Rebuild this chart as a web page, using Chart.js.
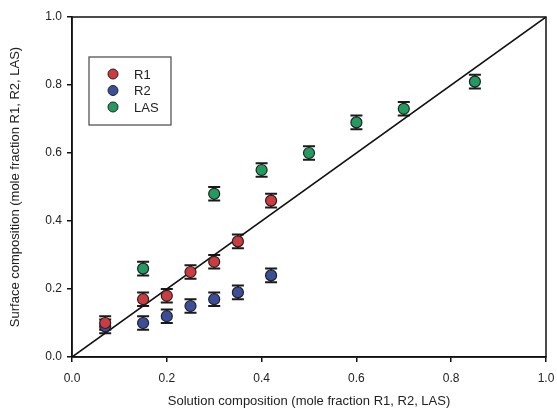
<!DOCTYPE html>
<html>
<head>
<meta charset="utf-8">
<script src="https://cdn.jsdelivr.net/npm/chart.js@4"></script>
<style>
  html, body { margin: 0; padding: 0; background: #fff; }
  #wrap { width: 557px; height: 415px; }
</style>
</head>
<body>
<div id="wrap"><canvas id="chart" width="557" height="415"></canvas></div>
<script>
// data
const r1X = [0.07, 0.15, 0.20, 0.25, 0.30, 0.35, 0.42];
const r1Y = [0.10, 0.17, 0.18, 0.25, 0.28, 0.34, 0.46];
const r2X = [0.07, 0.15, 0.20, 0.25, 0.30, 0.35, 0.42];
const r2Y = [0.09, 0.10, 0.12, 0.15, 0.17, 0.19, 0.24];
const lasX = [0.15, 0.30, 0.40, 0.50, 0.60, 0.70, 0.85];
const lasY = [0.26, 0.48, 0.55, 0.60, 0.69, 0.73, 0.81];
const errY = 0.02;
const tickValues = [0, 0.2, 0.4, 0.6, 0.8, 1.0];
const seriesNames = ['R1', 'R2', 'LAS'];
const seriesColors = ['#cf3a3f', '#3a4e9c', '#1f9c5e'];

const toPoints = (xs, ys) => xs.map((x, i) => ({ x: x, y: ys[i] }));

const FONT = 'Arial, "Liberation Sans", sans-serif';

// error bars, drawn under the markers
const errorBars = {
    id: 'errorBars',
    beforeDatasetsDraw(chart) {
        const ctx = chart.ctx;
        const xs = chart.scales.x, ys = chart.scales.y;
        ctx.save();
        ctx.strokeStyle = '#1a1a1a';
        ctx.lineWidth = 2;
        chart.data.datasets.forEach(ds => {
            if (!ds.isSeries) return;
            ds.data.forEach(p => {
                const px = xs.getPixelForValue(p.x);
                const top = ys.getPixelForValue(p.y + errY);
                const bot = ys.getPixelForValue(p.y - errY);
                ctx.beginPath();
                ctx.moveTo(px, top); ctx.lineTo(px, bot);
                ctx.moveTo(px - 6, top); ctx.lineTo(px + 6, top);
                ctx.moveTo(px - 6, bot); ctx.lineTo(px + 6, bot);
                ctx.stroke();
            });
        });
        ctx.restore();
    }
};

// frame around the plot and the boxed legend
const frameAndLegend = {
    id: 'frameAndLegend',
    afterDraw(chart) {
        const ctx = chart.ctx;
        const a = chart.chartArea;
        ctx.save();
        ctx.strokeStyle = '#111';
        ctx.lineWidth = 1.5;
        ctx.strokeRect(a.left, a.top, a.right - a.left, a.bottom - a.top);

        const lx = a.left + 17, ly = a.top + 40;
        ctx.strokeStyle = '#555';
        ctx.lineWidth = 1.3;
        ctx.strokeRect(lx, ly, 82, 68);
        ctx.font = '13px ' + FONT;
        ctx.textBaseline = 'middle';
        seriesNames.forEach((name, i) => {
            const cy = ly + 17 + i * 16.5;
            ctx.beginPath();
            ctx.arc(lx + 24, cy, 5, 0, Math.PI * 2);
            ctx.fillStyle = seriesColors[i];
            ctx.fill();
            ctx.lineWidth = 1;
            ctx.strokeStyle = '#222';
            ctx.stroke();
            ctx.fillStyle = '#222';
            ctx.fillText(name, lx + 45, cy + 1);
        });
        ctx.restore();
    }
};

const seriesDs = (label, pts, color) => ({
    label: label,
    data: pts,
    isSeries: true,
    showLine: false,
    backgroundColor: color,
    borderColor: '#222',
    borderWidth: 1.2,
    pointRadius: 5.5,
    pointHoverRadius: 5.5
});

new Chart(document.getElementById('chart').getContext('2d'), {
    type: 'scatter',
    data: {
        datasets: [
            seriesDs(seriesNames[0], toPoints(r1X, r1Y), seriesColors[0]),
            seriesDs(seriesNames[1], toPoints(r2X, r2Y), seriesColors[1]),
            seriesDs(seriesNames[2], toPoints(lasX, lasY), seriesColors[2]),
            {
                label: '1:1',
                data: [{ x: 0, y: 0 }, { x: 1, y: 1 }],
                showLine: true,
                borderColor: '#111',
                borderWidth: 1.6,
                pointRadius: 0
            }
        ]
    },
    options: {
        responsive: false,
        animation: false,
        layout: { padding: { top: 17, right: 11, left: 0, bottom: 0 } },
        plugins: { legend: { display: false }, tooltip: { enabled: false } },
        scales: {
            x: {
                type: 'linear',
                min: 0, max: 1,
                afterBuildTicks: s => { s.ticks = tickValues.map(v => ({ value: v })); },
                afterFit: s => { s.height = 58; s.paddingLeft = 0; s.paddingRight = 0; },
                ticks: {
                    callback: v => v.toFixed(1),
                    color: '#222',
                    font: { family: FONT, size: 12 },
                    padding: 9
                },
                grid: { drawOnChartArea: false, tickLength: 5, color: '#111', lineWidth: 1.5 },
                border: { color: '#111', width: 1.5 },
                title: {
                    display: true,
                    text: 'Solution composition (mole fraction R1, R2, LAS)',
                    color: '#222',
                    font: { family: FONT, size: 13 },
                    padding: { top: 4, bottom: 6 }
                }
            },
            y: {
                type: 'linear',
                min: 0, max: 1,
                afterBuildTicks: s => { s.ticks = tickValues.map(v => ({ value: v })); },
                afterFit: s => { s.width = 72; },
                ticks: {
                    callback: v => v.toFixed(1),
                    color: '#222',
                    font: { family: FONT, size: 12 },
                    padding: 5
                },
                grid: { drawOnChartArea: false, tickLength: 5, color: '#111', lineWidth: 1.5 },
                border: { color: '#111', width: 1.5 },
                title: {
                    display: true,
                    text: 'Surface composition (mole fraction R1, R2, LAS)',
                    color: '#222',
                    font: { family: FONT, size: 13 },
                    padding: { top: 8, bottom: 0 }
                }
            }
        }
    },
    plugins: [errorBars, frameAndLegend]
});
</script>
</body>
</html>
